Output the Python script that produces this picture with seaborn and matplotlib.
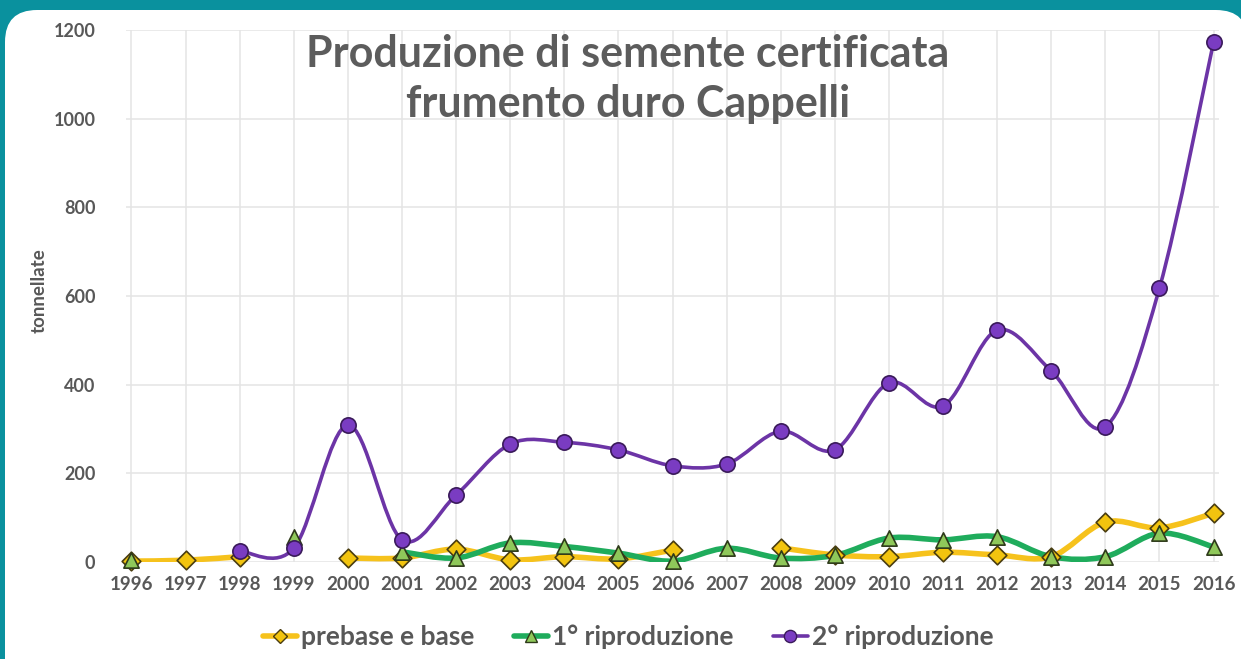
import numpy as np
import pandas as pd
import matplotlib
matplotlib.use("Agg")
import matplotlib.pyplot as plt
import seaborn as sns
from matplotlib.path import Path
from matplotlib.patches import PathPatch, FancyBboxPatch
from matplotlib.lines import Line2D

# ---------------- data ----------------
years = list(range(1996, 2017))
prebase = [2, 4, 12, None, 9, 9, 29, 5, 12, 7, 27, None, 32, 16, 12, 22, 16, 12, 90, 77, 110]
riprod1 = [5, None, None, 56, None, 23, 9, 43, 35, 20, 2, 31, 9, 15, 54, 50, 57, 12, 12, 65, 34]
riprod2 = [None, None, 25, 31, 309, 50, 151, 266, 270, 253, 217, 221, 295, 253, 404, 352, 523, 431, 305, 618, 1173]
series_names = ["prebase e base", "1° riproduzione", "2° riproduzione"]
title_text = "Produzione di semente certificata\nfrumento duro Cappelli"
y_label = "tonnellate"
y_ticks = [0, 200, 400, 600, 800, 1000, 1200]

# ---------------- style ----------------
sns.set_theme(style="white")
plt.rcParams['font.family'] = ['Lato', 'DejaVu Sans']

TEAL = "#0a919e"
TEXT = "#585858"
styles = {
    "prebase e base": dict(line="#f6c21c", face="#f2c40f", edge="#4a3d10", marker="D", ms=9.5, lw=4.0),
    "1° riproduzione": dict(line="#1fac5c", face="#8fc85a", edge="#2e3a1a", marker="^", ms=11, lw=4.0),
    "2° riproduzione": dict(line="#6c34a6", face="#7a3cc2", edge="#3a1a5a", marker="o", ms=11, lw=2.6),
}

fig = plt.figure(figsize=(12.41, 6.59), dpi=100)
fig.patch.set_facecolor(TEAL)
panel = FancyBboxPatch((0.05, -0.6), 12.43, 7.09,
                       boxstyle="round,pad=0,rounding_size=0.32",
                       transform=fig.dpi_scale_trans, facecolor="white",
                       edgecolor="none", zorder=-5)
fig.patches.append(panel)

ax = fig.add_axes([126 / 1241, 1 - 562 / 659, (1219 - 126) / 1241, (562 - 30) / 659])
ax.set_zorder(2)
ax.set_facecolor("none")

df = pd.DataFrame({"year": years, series_names[0]: prebase,
                   series_names[1]: riprod1, series_names[2]: riprod2})
long = df.melt(id_vars="year", var_name="serie", value_name="t").dropna()


def smooth_path(xs, ys):
    """Excel-like smoothed line: cubic Bezier segments from the data points."""
    pts = np.column_stack([xs, ys]).astype(float)
    n = len(pts)
    verts = [pts[0]]
    codes = [Path.MOVETO]
    for i in range(n - 1):
        p0 = pts[i - 1] if i > 0 else pts[i]
        p1 = pts[i]
        p2 = pts[i + 1]
        p3 = pts[i + 2] if i + 2 < n else pts[i + 1]
        c1 = p1 + (p2 - p0) / 6.0
        c2 = p2 - (p3 - p1) / 6.0
        verts += [c1, c2, p2]
        codes += [Path.CURVE4] * 3
    return Path(verts, codes)


for k, name in enumerate(series_names):
    st = styles[name]
    sub = df[["year", name]]
    runs, cur = [], []
    for yr, v in zip(sub["year"], sub[name]):
        if pd.isna(v):
            if cur:
                runs.append(cur)
            cur = []
        else:
            cur.append((yr, v))
    if cur:
        runs.append(cur)
    for run in runs:
        if len(run) > 1:
            xs, ys = zip(*run)
            patch = PathPatch(smooth_path(xs, ys), facecolor="none",
                              edgecolor=st["line"], lw=st["lw"],
                              capstyle="round", joinstyle="round", zorder=3 + k)
            ax.add_patch(patch)
    s = long[long["serie"] == name]
    sns.scatterplot(data=s, x="year", y="t", ax=ax, marker=st["marker"],
                    s=st["ms"] ** 2, color=st["face"], edgecolor=st["edge"],
                    linewidth=1.2, zorder=10 + k, legend=False, clip_on=False)

ax.set_xlim(1995.9, 2016.1)
ax.set_ylim(0, 1200)
ax.set_xticks(years)
ax.set_yticks(y_ticks)
ax.grid(True, color="#e4e4e4", lw=1.1)
ax.set_axisbelow(True)
for sp in ax.spines.values():
    sp.set_visible(False)
ax.tick_params(axis="both", length=0)
ax.set_xlabel("")
ax.set_ylabel(y_label, fontsize=13.5, fontweight="bold", color=TEXT)
ax.yaxis.set_label_coords(-0.072, 0.51)
for lab in ax.get_yticklabels():
    lab.set_fontsize(13)
    lab.set_fontweight("bold")
    lab.set_color(TEXT)
ax.tick_params(axis="y", pad=22)
ax.set_xticklabels([str(y) for y in years], fontsize=13.5, fontweight="bold",
                   color=TEXT)
ax.tick_params(axis="x", pad=10)

fig.text(628 / 1241, 1 - 79 / 659, title_text, ha="center", va="center",
         fontsize=31, fontweight="bold", color="#5c5c5c", linespacing=1.3)

handles = []
for name in series_names:
    st = styles[name]
    handles.append(Line2D([0], [0], color=st["line"], lw=st["lw"], marker=st["marker"],
                          markersize=st["ms"] * 0.8, markerfacecolor=st["face"],
                          markeredgecolor=st["edge"], markeredgewidth=1.0))
fig.legend(handles, series_names, loc="center", bbox_to_anchor=(628 / 1241, 1 - 637 / 659),
           ncol=3, frameon=False, handlelength=1.3, handletextpad=0.15,
           columnspacing=1.5, labelcolor=TEXT, prop=dict(size=19, weight="bold"))

fig.savefig("out.png", dpi=100, facecolor=fig.get_facecolor())
